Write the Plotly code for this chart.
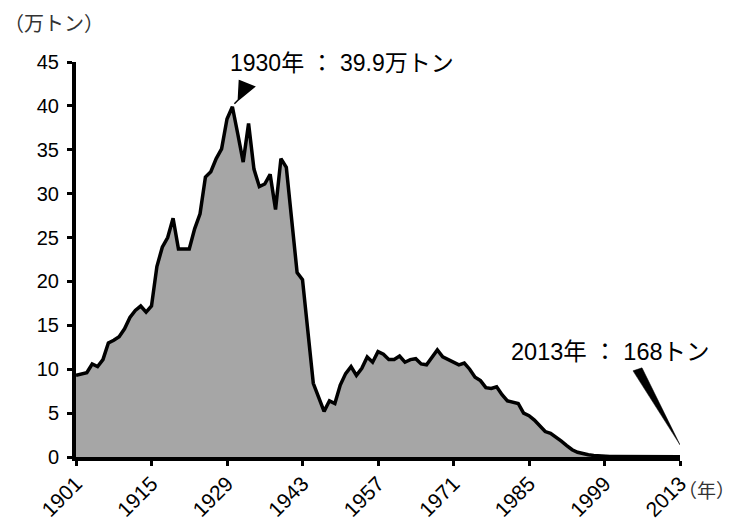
import plotly.graph_objects as go

# ---- data (万トン) ----
years = list(range(1901, 2014))
production = [
    9.3, 9.4, 9.6, 10.6, 10.3, 11.1, 13.0, 13.3, 13.7, 14.6,   # 1901-1910
    15.9, 16.7, 17.2, 16.5, 17.2, 21.7, 23.9, 25.0, 27.2, 23.7,  # 1911-1920
    23.7, 23.7, 26.0, 27.7, 31.9, 32.5, 34.0, 35.1, 38.5, 39.9,  # 1921-1930
    36.8, 33.6, 38.0, 32.8, 30.8, 31.1, 32.2, 28.2, 34.0, 33.0,  # 1931-1940
    27.0, 21.0, 20.2, 14.2, 8.4, 6.8, 5.2, 6.4, 6.1, 8.2,        # 1941-1950
    9.5, 10.3, 9.3, 10.1, 11.4, 10.8, 12.0, 11.7, 11.1, 11.1,    # 1951-1960
    11.5, 10.8, 11.1, 11.2, 10.6, 10.5, 11.4, 12.2, 11.4, 11.1,  # 1961-1970
    10.8, 10.5, 10.7, 10.0, 9.1, 8.7, 7.9, 7.8, 8.0, 7.1,        # 1971-1980
    6.4, 6.2, 6.1, 5.0, 4.7, 4.2, 3.5, 2.9, 2.7, 2.3,            # 1981-1990
    1.8, 1.3, 0.83, 0.54, 0.38, 0.25, 0.18, 0.12, 0.08, 0.06,    # 1991-2000
    0.05, 0.04, 0.035, 0.03, 0.027, 0.025, 0.023, 0.021, 0.02, 0.019,  # 2001-2010
    0.018, 0.017, 0.0168,                                         # 2011-2013
]
x_ticks = [1901, 1915, 1929, 1943, 1957, 1971, 1985, 1999, 2013]
y_ticks = [0, 5, 10, 15, 20, 25, 30, 35, 40, 45]

peak_year, peak_val = 1930, 39.9
last_year, last_val = 2013, 0.0168
peak_label = "1930年 ： 39.9万トン"
last_label = "2013年 ： 168トン"
unit_label = "（万トン）"
year_label = "（年）"

FONT = "Liberation Sans, Arial, Noto Sans CJK JP, sans-serif"

fig = go.Figure()
fig.add_trace(go.Scatter(
    x=years, y=production, mode="lines",
    fill="tozeroy", fillcolor="#a6a6a6",
    line=dict(color="black", width=3.5),
    hoverinfo="skip", showlegend=False,
))

fig.update_layout(
    width=734, height=521,
    margin=dict(l=76, r=54, t=62, b=64, autoexpand=False),
    paper_bgcolor="white", plot_bgcolor="white",
    font=dict(family=FONT, size=20, color="black"),
    xaxis=dict(
        range=[1901, 2013], tickmode="array", tickvals=x_ticks,
        ticktext=[str(v) for v in x_ticks], tickangle=-45,
        showgrid=False, zeroline=False, showline=True, linecolor="black",
        linewidth=4, ticks="outside", ticklen=5, tickwidth=3, tickcolor="black",
        tickfont=dict(size=21), ticklabelstandoff=-3, automargin=False,
    ),
    yaxis=dict(
        range=[0, 45], tickmode="array", tickvals=y_ticks,
        ticktext=[str(v) for v in y_ticks],
        showgrid=False, zeroline=False, showline=True, linecolor="black",
        linewidth=4, ticks="outside", ticklen=5, tickwidth=3, tickcolor="black",
        tickfont=dict(size=20), ticklabelstandoff=4, automargin=False,
    ),
)

# annotation texts
fig.add_annotation(x=peak_year, y=peak_val, xref="x", yref="y", text=peak_label,
                   showarrow=False, xanchor="left", yanchor="middle",
                   xshift=-4, yshift=44, font=dict(size=23, color="black"))
fig.add_annotation(x=last_year, y=last_val, xref="x", yref="y", text=last_label,
                   showarrow=False, xanchor="center", yanchor="middle",
                   xshift=-70, yshift=105, font=dict(size=23.5, color="black"))
fig.add_annotation(x=0, y=1, xref="paper", yref="paper", text=unit_label,
                   showarrow=False, xanchor="left", yanchor="middle",
                   xshift=-74, yshift=38, font=dict(size=20, color="#333333"))
fig.add_annotation(x=1, y=0, xref="paper", yref="paper", text=year_label,
                   showarrow=False, xanchor="right", yanchor="middle",
                   xshift=57, yshift=-34, font=dict(size=19, color="#333333"))

# pointer for the peak (triangle + short stem), anchored at data point
fig.add_shape(type="path", xref="x", yref="y", xsizemode="pixel", ysizemode="pixel",
              xanchor=peak_year, yanchor=peak_val,
              path="M 7,26 L 22,20 L 6,7 Z M 6,7 L 2,3",
              fillcolor="black", line=dict(color="black", width=1.5), layer="above")
# wedge pointer for 2013
fig.add_shape(type="path", xref="x", yref="y", xsizemode="pixel", ysizemode="pixel",
              xanchor=last_year, yanchor=last_val,
              path="M -47,86 L -38,89 L 0,12 Z",
              fillcolor="black", line=dict(color="black", width=0.5), layer="above")

# remove the browser's default 8px body margin so the figure sits at the page origin
fig.write_html("out.html", config={"displayModeBar": False},
               post_script="document.body.style.margin='0';")
